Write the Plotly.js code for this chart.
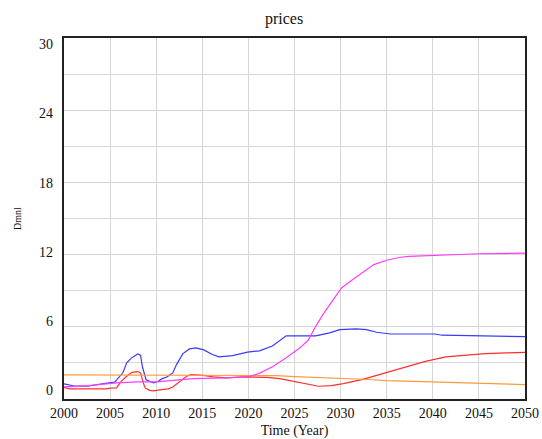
<!DOCTYPE html>
<html>
<head>
<meta charset="utf-8">
<script src="https://cdn.plot.ly/plotly-3.0.1.min.js"></script>
<style>
  html, body { margin: 0; padding: 0; background: #fff; }
  #chart { width: 542px; height: 439px; }
</style>
</head>
<body>
<div id="chart"></div>
<script>
// Price trajectories, 2000-2050 (Dmnl)
const blueYears = [2000, 2001, 2002.5, 2003.5, 2004.5, 2005.5, 2006.0, 2006.4, 2006.8, 2007.3, 2007.7, 2008.0, 2008.3, 2008.5, 2008.9, 2009.3, 2009.7, 2010.2, 2010.6, 2011.2, 2011.8, 2012.2, 2012.9, 2013.6, 2014.3, 2015.1, 2016.1, 2016.8, 2017.5, 2018.3, 2019.9, 2021.2, 2022.6, 2023.3, 2024.1, 2026.7, 2027.3, 2028.8, 2029.9, 2031.7, 2032.8, 2033.9, 2035.4, 2037.5, 2040.2, 2041.0, 2043.0, 2044.0, 2049.5, 2050];
const blueValues = [1.25, 1.1, 1.06, 1.15, 1.3, 1.4, 1.8, 2.2, 3.0, 3.4, 3.6, 3.75, 3.65, 2.7, 1.6, 1.45, 1.35, 1.45, 1.67, 1.85, 2.17, 2.86, 3.77, 4.16, 4.25, 4.1, 3.7, 3.5, 3.52, 3.6, 3.9, 4.0, 4.4, 4.8, 5.25, 5.25, 5.25, 5.5, 5.77, 5.83, 5.77, 5.55, 5.4, 5.4, 5.4, 5.3, 5.28, 5.24, 5.22, 5.19];

const redYears = [2000, 2000.6, 2004.6, 2005.0, 2005.7, 2006.2, 2006.8, 2007.4, 2008.0, 2008.3, 2008.6, 2008.8, 2009.3, 2009.7, 2010.6, 2011.3, 2011.8, 2012.6, 2013.3, 2013.8, 2015.1, 2016.2, 2017.6, 2019.8, 2022.0, 2023.4, 2024.9, 2026.0, 2027.6, 2029.0, 2030.3, 2032.3, 2033.9, 2035.4, 2037.0, 2039.2, 2041.4, 2043.5, 2045.7, 2048.0, 2050];
const redValues = [0.97, 0.84, 0.84, 0.9, 0.92, 1.47, 1.89, 2.22, 2.28, 2.17, 1.34, 0.92, 0.72, 0.67, 0.78, 0.84, 1.0, 1.47, 1.89, 2.03, 1.97, 1.84, 1.75, 1.84, 1.8, 1.7, 1.47, 1.34, 1.06, 1.11, 1.28, 1.61, 1.95, 2.28, 2.67, 3.13, 3.5, 3.63, 3.77, 3.83, 3.88];

const orangeYears = [2000, 2010, 2020, 2023, 2025, 2028, 2030, 2033, 2035, 2038, 2040, 2043, 2045, 2048, 2050];
const orangeValues = [2.0, 1.99, 1.97, 1.95, 1.86, 1.78, 1.72, 1.62, 1.52, 1.45, 1.40, 1.34, 1.30, 1.26, 1.2];

const magentaYears = [2000, 2002.6, 2005.7, 2008.0, 2010.0, 2011.8, 2014.0, 2017.6, 2020.2, 2021.3, 2022.7, 2024.1, 2024.8, 2025.6, 2026.5, 2027.3, 2028.2, 2029.2, 2030.1, 2031.4, 2032.5, 2033.6, 2035.0, 2036.5, 2037.4, 2040.0, 2045.0, 2050];
const magentaValues = [1.0, 1.11, 1.34, 1.42, 1.42, 1.55, 1.7, 1.75, 1.89, 2.17, 2.72, 3.42, 3.8, 4.25, 4.9, 6.04, 7.16, 8.26, 9.23, 9.98, 10.6, 11.17, 11.53, 11.78, 11.86, 11.95, 12.07, 12.12];

const yTickValues = [0, 6, 12, 18, 24, 30];
const yTickLabels = ['0', '6', '12', '18', '24', '30'];
const xTickValues = [2000, 2005, 2010, 2015, 2020, 2025, 2030, 2035, 2040, 2045, 2050];

const serif = '"Liberation Serif", "Times New Roman", serif';

function series(x, y, color) {
  return {
    type: 'scatter', mode: 'lines', x: x, y: y,
    line: { color: color, width: 1.2 },
    hoverinfo: 'skip', showlegend: false
  };
}

const traces = [
  series(blueYears, blueValues, '#3a3aff'),
  series(redYears, redValues, '#ff2e2e'),
  series(orangeYears, orangeValues, '#ff9a3a'),
  series(magentaYears, magentaValues, '#ff3cff'),
  // carrier for the labelled value axis
  { type: 'scatter', mode: 'lines', x: [], y: [], yaxis: 'y2', hoverinfo: 'skip', showlegend: false }
];

const layout = {
  width: 542, height: 439,
  margin: { l: 64, r: 17, t: 38, b: 40, pad: 0 },
  paper_bgcolor: '#ffffff', plot_bgcolor: '#ffffff',
  font: { family: serif, size: 14, color: '#111' },
  title: {
    text: 'prices', x: 0.524, xref: 'container', xanchor: 'center',
    y: 0.957, yref: 'container', yanchor: 'middle',
    font: { family: serif, size: 16, color: '#111' }
  },
  xaxis: {
    range: [2000, 2050], tickvals: xTickValues, ticks: '', ticklabelstandoff: 0,
    showgrid: true, gridcolor: '#d6d6d6', gridwidth: 1, zeroline: false,
    showline: true, mirror: true, linecolor: '#222', linewidth: 2,
    tickfont: { family: serif, size: 14, color: '#111' },
    title: { text: 'Time (Year)', standoff: 7, font: { family: serif, size: 14, color: '#111' } }
  },
  yaxis: {
    range: [0, 30], dtick: 3, showticklabels: false, ticks: '',
    showgrid: true, gridcolor: '#d6d6d6', gridwidth: 1, zeroline: false,
    showline: true, mirror: true, linecolor: '#222', linewidth: 2
  },
  yaxis2: {
    overlaying: 'y', side: 'left', range: [-0.73, 30.52],
    tickvals: yTickValues, ticktext: yTickLabels, ticks: '', ticklabelstandoff: 10,
    showgrid: false, zeroline: false, showline: false,
    tickfont: { family: serif, size: 14, color: '#111' },
    title: { text: 'Dmnl', standoff: 15, font: { family: serif, size: 10, color: '#111' } }
  }
};

Plotly.newPlot('chart', traces, layout, { staticPlot: true, displayModeBar: false });
</script>
</body>
</html>
